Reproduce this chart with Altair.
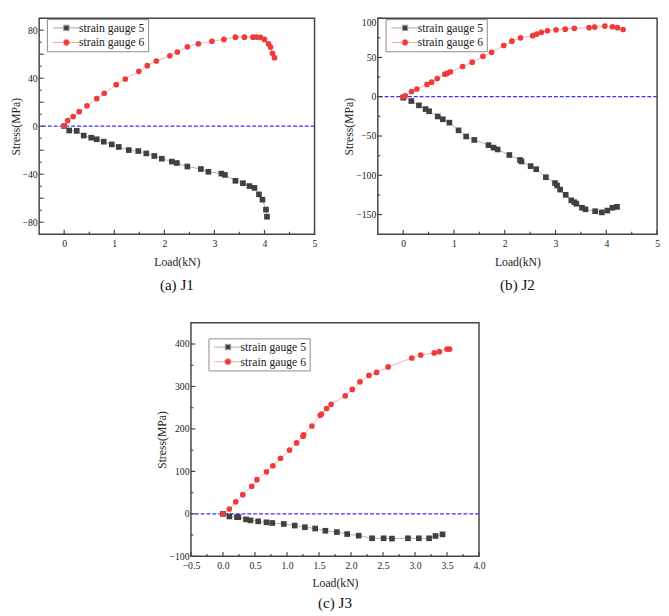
import altair as alt
import pandas as pd

FONT = "Liberation Serif, serif"
SERIES = ["strain gauge 5", "strain gauge 6"]
LINE_COLORS = ["#a8a8a8", "#f4a6a6"]
POINT_COLORS = ["#404040", "#ef3b3b"]
SHAPES = ["square", "circle"]
ZERO_COLOR = "#3333ff"
FRAME = "#444444"
TEXT = "#222222"

# ---------------- J1 ----------------
j1_g5_load = [0, 0.10, 0.25, 0.39, 0.54, 0.65, 0.79, 0.95, 1.09, 1.29, 1.48, 1.64, 1.80, 1.95, 2.15,
              2.25, 2.46, 2.73, 2.88, 3.14, 3.21, 3.42, 3.57, 3.70, 3.80, 3.89, 3.96, 4.03, 4.05]
j1_g5_stress = [0, -3.6, -3.9, -7.8, -9.6, -10.9, -12.9, -15.2, -17.3, -19.9, -20.7, -22.7, -24.8, -27.1,
                -29.5, -30.7, -33.6, -35.7, -38.0, -39.5, -40.6, -45.5, -47.5, -49.9, -51.4, -56.8, -61.2,
                -69.5, -75.4]
j1_g6_load = [0, 0.07, 0.18, 0.30, 0.455, 0.65, 0.80, 1.04, 1.22, 1.49, 1.66, 1.84, 2.11, 2.26, 2.46,
              2.68, 2.95, 3.19, 3.42, 3.60, 3.77, 3.84, 3.92, 4.00, 4.08, 4.12, 4.16, 4.20]
j1_g6_stress = [0, 4.7, 8, 12.1, 17, 23, 27.4, 34.6, 39.3, 45.7, 50.4, 54.3, 58.7, 61.8, 66.1, 68.7,
                70.8, 72.3, 74.2, 74.2, 74.2, 74.2, 74.0, 72.3, 68.7, 65.9, 60.7, 57.1]

# ---------------- J2 ----------------
j2_g5_load = [0, 0.16, 0.31, 0.44, 0.51, 0.68, 0.78, 0.91, 1.09, 1.24, 1.40, 1.68, 1.78, 1.86, 2.09,
              2.30, 2.33, 2.51, 2.62, 2.81, 2.99, 3.03, 3.09, 3.20, 3.31, 3.37, 3.41, 3.52, 3.59, 3.78,
              3.91, 4.02, 4.12, 4.21]
j2_g5_stress = [-1.2, -5.5, -11, -15.7, -18.5, -25.1, -28.7, -33, -42.8, -50.6, -55, -61.6, -64.8, -67.1,
                -74.2, -80.5, -82.4, -88.3, -92.3, -102.5, -109.9, -113, -118.2, -124.9, -131.9, -134.3,
                -136.2, -141.3, -143.3, -145.7, -147.2, -144.9, -141.3, -140.2]
j2_g6_load = [0, 0.04, 0.165, 0.27, 0.47, 0.56, 0.67, 0.82, 0.87, 0.93, 1.17, 1.36, 1.57, 1.74, 1.98,
              2.14, 2.31, 2.55, 2.63, 2.72, 2.84, 3.01, 3.19, 3.37, 3.66, 3.77, 3.97, 4.12, 4.22, 4.33]
j2_g6_stress = [0, 1.2, 6.7, 9.8, 15.7, 18.5, 23.2, 28.7, 29.8, 31.8, 38.5, 44, 51.4, 56.5, 65.2, 70.7,
                75, 77.7, 79.7, 82, 84, 85.2, 86, 87.2, 87.9, 88.7, 89.9, 89.1, 87.9, 85.6]

# ---------------- J3 ----------------
j3_g5_load = [0, 0.10, 0.22, 0.24, 0.36, 0.43, 0.55, 0.68, 0.77, 0.95, 1.12, 1.28, 1.44, 1.60, 1.78,
              1.94, 2.12, 2.33, 2.51, 2.64, 2.89, 3.06, 3.22, 3.32, 3.43]
j3_g5_stress = [0, -6.1, -7.7, -7.7, -13, -15.3, -17.6, -19.9, -21.5, -23.8, -27.6, -31.4, -34.5, -39.8,
                -42.9, -47.5, -51.3, -57.5, -57.5, -58.2, -57.5, -57.5, -57.5, -52.1, -48.3]
j3_g6_load = [0, 0.10, 0.20, 0.31, 0.45, 0.53, 0.68, 0.78, 0.90, 1.04, 1.15, 1.25, 1.26, 1.39, 1.52,
              1.54, 1.62, 1.69, 1.91, 2.02, 2.14, 2.28, 2.40, 2.58, 2.95, 3.09, 3.30, 3.38, 3.50, 3.54]
j3_g6_stress = [0, 11.5, 28.4, 45.2, 65.1, 80.5, 98.9, 113.4, 131, 150.2, 167, 183, 186, 207, 232, 235,
                248, 258, 278, 293, 311, 326, 333, 346, 367, 374, 379, 382, 388, 388]

# axis tick values
j1_x_major = [0, 1, 2, 3, 4, 5]
j1_x_minor = [0.5, 1.5, 2.5, 3.5, 4.5]
j1_y_major = [-80, -60, -40, -20, 0, 20, 40, 60, 80]
j1_y_minor = [-70, -50, -30, -10, 10, 30, 50, 70]
j2_x_major = [0, 1, 2, 3, 4, 5]
j2_x_minor = [0.5, 1.5, 2.5, 3.5, 4.5]
j2_y_major = [-150, -100, -50, 0, 50, 100]
j2_y_minor = [-125, -75, -25, 25, 75]
j3_x_major = [-0.5, 0.0, 0.5, 1.0, 1.5, 2.0, 2.5, 3.0, 3.5, 4.0]
j3_x_minor = [-0.25, 0.25, 0.75, 1.25, 1.75, 2.25, 2.75, 3.25, 3.75]
j3_y_major = [-100, 0, 100, 200, 300, 400]
j3_y_minor = [-50, 50, 150, 250, 350]

# legend symbols: line stub + marker (unit path, scaled by sqrt(size)/2); circle drawn as a 12-gon
CIRCLE_12 = ("M0.95,0L0.823,0.475L0.475,0.823L0,0.95L-0.475,0.823L-0.823,0.475L-0.95,0"
             "L-0.823,-0.475L-0.475,-0.823L0,-0.95L0.475,-0.823L0.823,-0.475Z")
LEGEND_PATHS = [
    "M-4,0H-0.8M0.8,0H4M-0.8,-0.8H0.8V0.8H-0.8Z",
    "M-4,0H-0.95M0.95,0H4M" + CIRCLE_12[1:],
]

INDEP = dict(shape="independent", fill="independent", stroke="independent")


def make_df(l5, s5, l6, s6):
    rows = []
    for i, (l, s) in enumerate(zip(l5, s5)):
        rows.append({"load": l, "stress": s, "series": SERIES[0], "idx": i})
    for i, (l, s) in enumerate(zip(l6, s6)):
        rows.append({"load": l, "stress": s, "series": SERIES[1], "idx": i})
    return pd.DataFrame(rows)


def panel(df, xdom, ydom, xmaj, xmin, ymaj, ymin, w, h, caption, xfmt, legx, legy,
          xlabpad, xtitlepad, capoff, top_label=None):
    common = dict(grid=False, domain=False, ticks=False, tickSize=0, labelOverlap=False,
                  labelFlush=False, labelFont=FONT, labelFontSize=10, labelColor=TEXT,
                  titleFont=FONT, titleFontSize=12, titleFontWeight="normal", titleColor=TEXT)
    x = alt.X("load:Q",
              scale=alt.Scale(domain=xdom, nice=False, zero=False),
              axis=alt.Axis(values=xmaj, format=xfmt, title="Load(kN)",
                            labelPadding=xlabpad, titlePadding=xtitlepad, **common))
    yaxis_kw = dict(values=ymaj, format="d", title="Stress(MPa)", labelPadding=2, titlePadding=0, **common)
    if top_label is not None:
        yaxis_kw["labelBaseline"] = {"condition": {"test": f"datum.value >= {top_label}", "value": "top"},
                                     "value": "middle"}
    y = alt.Y("stress:Q",
              scale=alt.Scale(domain=ydom, nice=False, zero=False),
              axis=alt.Axis(**yaxis_kw))
    base = alt.Chart(df)
    layers = []
    for s, lc in zip(SERIES, LINE_COLORS):
        layers.append(base.transform_filter(alt.datum.series == s)
                      .mark_line(color=lc, strokeWidth=0.9)
                      .encode(x=x, y=y, order="idx:Q"))
    layers.append(alt.Chart(pd.DataFrame({"z": [0]}))
                  .mark_rule(color=ZERO_COLOR, strokeDash=[4, 2], strokeWidth=1.3)
                  .encode(y=alt.Y(datum=0)))
    for s, pc, shp in zip(SERIES, POINT_COLORS, SHAPES):
        layers.append(base.transform_filter(alt.datum.series == s)
                      .mark_point(filled=True, opacity=1, shape=shp, size=34, color=pc)
                      .encode(x=x, y=y))
    layers.append(alt.Chart(pd.DataFrame({"load": xmaj})).mark_rule(color=FRAME, strokeWidth=1.2)
                  .encode(x=x, y=alt.value(h), y2=alt.value(h - 4.5)))
    layers.append(alt.Chart(pd.DataFrame({"load": xmin})).mark_rule(color=FRAME, strokeWidth=1.2)
                  .encode(x=x, y=alt.value(h), y2=alt.value(h - 2.5)))
    layers.append(alt.Chart(pd.DataFrame({"stress": ymaj})).mark_rule(color=FRAME, strokeWidth=1.2)
                  .encode(y=y, x=alt.value(0), x2=alt.value(4.5)))
    layers.append(alt.Chart(pd.DataFrame({"stress": ymin})).mark_rule(color=FRAME, strokeWidth=1.2)
                  .encode(y=y, x=alt.value(0), x2=alt.value(2.5)))
    leg = alt.Legend(title=None, orient="none", legendX=legx, legendY=legy,
                     strokeColor="#8a8a8a", fillColor="white", padding=3,
                     symbolSize=49, symbolOffset=11, labelOffset=7, symbolOpacity=1,
                     symbolStrokeWidth=1, labelFont=FONT, labelFontSize=12, labelColor=TEXT,
                     rowPadding=3)
    # legend carrier: invisible marks (no position encoding -> sit at the plot centre)
    layers.append(base.mark_point(filled=True, opacity=0, size=34)
                  .encode(shape=alt.Shape("series:N", scale=alt.Scale(domain=SERIES, range=LEGEND_PATHS), legend=leg),
                          fill=alt.Fill("series:N", scale=alt.Scale(domain=SERIES, range=POINT_COLORS), legend=leg),
                          stroke=alt.Stroke("series:N", scale=alt.Scale(domain=SERIES, range=LINE_COLORS), legend=leg)))
    return alt.layer(*layers).properties(
        width=w, height=h,
        view=alt.ViewBackground(stroke=FRAME, strokeWidth=1.5),
        title=alt.TitleParams(caption, orient="bottom", anchor="middle", font=FONT, fontSize=15.5,
                              fontWeight="normal", color="#111111", offset=capoff),
    )


df1 = make_df(j1_g5_load, j1_g5_stress, j1_g6_load, j1_g6_stress)
df2 = make_df(j2_g5_load, j2_g5_stress, j2_g6_load, j2_g6_stress)
df3 = make_df(j3_g5_load, j3_g5_stress, j3_g6_load, j3_g6_stress)

pa = panel(df1, [-0.5, 5], [-90, 90], j1_x_major, j1_x_minor, j1_y_major, j1_y_minor,
           283, 222, "(a) J1", "d", 8, 1, 5, 8, 11)
pb = panel(df2, [-0.5, 5], [-175, 100], j2_x_major, j2_x_minor, j2_y_major, j2_y_minor,
           287, 222, "(b) J2", "d", 8, 1, 5, 8, 11, top_label=100)
pc = panel(df3, [-0.5, 4.0], [-100, 450], j3_x_major, j3_x_minor, j3_y_major, j3_y_minor,
           296, 240, "(c) J3", ".1f", 18, 16, 5, 6.5, 8.5)

spacer = alt.Chart(pd.DataFrame({"a": [0]})).mark_point(opacity=0).properties(width=119, height=10)

top = alt.hconcat(pa, pb, spacing=24).resolve_scale(**INDEP).resolve_legend(**INDEP)
bottom = alt.hconcat(spacer, pc, spacing=0).resolve_scale(**INDEP).resolve_legend(**INDEP)

chart = alt.vconcat(top, bottom, spacing=28).resolve_scale(**INDEP).resolve_legend(**INDEP).properties(
    padding={"left": 0, "top": 0, "right": 0, "bottom": 0},
).configure(font=FONT).configure_view(stroke=None).configure_axis(
    labelFont=FONT, labelFontSize=10, labelColor=TEXT,
    titleFont=FONT, titleFontSize=12, titleFontWeight="normal", titleColor=TEXT,
).configure_legend(labelFont=FONT)

chart.save("out.html", embed_options={"renderer": "svg", "actions": False})
